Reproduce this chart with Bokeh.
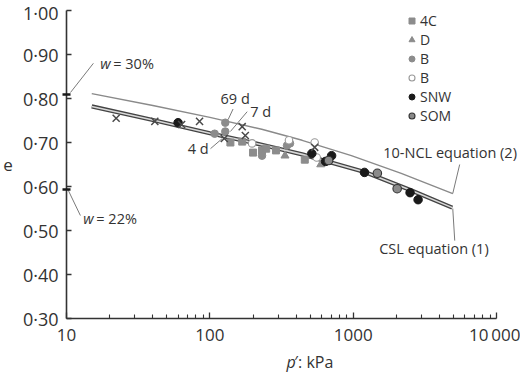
from bokeh.plotting import figure
from bokeh.layouts import column
from bokeh.models import Range1d, FixedTicker, Legend, LegendItem, Label
from bokeh.core.properties import value
from bokeh.embed import file_html
from bokeh.resources import INLINE

FONT = "Open Sans"
TXT = "#333333"

# Critical state line, equation (1)
csl_p = [15, 40, 100, 230, 440, 1200, 2500, 4900]
csl_e = [0.782, 0.751, 0.721, 0.695, 0.673, 0.633, 0.592, 0.552]
# 10-NCL, equation (2)
ncl_p = [15, 40, 100, 230, 440, 970, 2160, 4940]
ncl_e = [0.811, 0.784, 0.757, 0.730, 0.705, 0.670, 0.630, 0.584]

# data series
c4_p = [139, 168, 200, 231, 247, 289, 459]
c4_e = [0.700, 0.702, 0.677, 0.682, 0.686, 0.682, 0.661]
d_p = [334, 593]
d_e = [0.670, 0.650]
b_p = [128, 108, 128, 231, 345, 362]
b_e = [0.745, 0.720, 0.725, 0.670, 0.693, 0.698]
bo_p = [197, 356, 538, 556]
bo_e = [0.698, 0.705, 0.700, 0.666]
snw_p = [60, 514, 641, 706, 1197, 2489, 2831]
snw_e = [0.745, 0.675, 0.657, 0.670, 0.632, 0.586, 0.570]
som_p = [673, 1472, 2023]
som_e = [0.659, 0.630, 0.595]
cross_p = [22.2, 41.3, 63.5, 84.7, 168, 126, 176.6, 538]
cross_e = [0.755, 0.748, 0.741, 0.748, 0.736, 0.709, 0.716, 0.689]

# water content marks on the e axis
w_e = [0.81, 0.594]
w_labels = ["= 30%", "= 22%"]

x_ticks = [10, 100, 1000, 10000]
x_tick_labels = ["10", "100", "1000", "10\u2009000"]
y_ticks = [0.3, 0.4, 0.5, 0.6, 0.7, 0.8, 0.9, 1.0]
y_tick_labels = ["0\u00b730", "0\u00b740", "0\u00b750", "0\u00b760",
                 "0\u00b770", "0\u00b780", "0\u00b790", "1\u00b700"]

p = figure(width=520, height=350, x_axis_type="log",
           x_range=Range1d(10, 14660), y_range=Range1d(0.3, 1.0),
           output_backend="svg", toolbar_location=None,
           min_border_left=63, min_border_right=0,
           min_border_top=10, min_border_bottom=32)
p.outline_line_color = None
p.grid.visible = False

minor = [k * 10 ** d for d in (1, 2, 3) for k in range(2, 10)]
p.xaxis.ticker = FixedTicker(ticks=x_ticks, minor_ticks=minor)
p.xaxis.major_label_overrides = dict(zip(x_ticks, x_tick_labels))
p.xaxis.bounds = (10, 10000)
p.yaxis.ticker = FixedTicker(ticks=y_ticks, minor_ticks=w_e)
p.yaxis.major_label_overrides = dict(zip(y_ticks, y_tick_labels))

for ax in (p.xaxis, p.yaxis):
    ax.axis_line_color = "#333333"
    ax.axis_line_width = 1.6
    ax.major_tick_line_color = "#333333"
    ax.major_tick_line_width = 1.3
    ax.major_tick_in = 6
    ax.major_tick_out = 0
    ax.minor_tick_line_color = "#333333"
    ax.minor_tick_line_width = 1.1
    ax.minor_tick_in = 4
    ax.minor_tick_out = 0
    ax.major_label_text_font = FONT
    ax.major_label_text_font_size = "17px"
    ax.major_label_text_color = TXT
    ax.major_label_standoff = 4
p.yaxis.major_label_text_font_size = "18px"
# the two water-content marks are drawn as bold ticks across the e axis
p.yaxis.minor_tick_line_color = "#1a1a1a"
p.yaxis.minor_tick_line_width = 2.6
p.yaxis.minor_tick_in = 4
p.yaxis.minor_tick_out = 4
p.yaxis.major_tick_in = 5
p.yaxis.axis_label = "e"
p.yaxis.axis_label_orientation = "horizontal"
p.yaxis.axis_label_text_font = FONT
p.yaxis.axis_label_text_font_style = "normal"
p.yaxis.axis_label_text_font_size = "17px"
p.yaxis.axis_label_text_color = TXT
p.yaxis.axis_label_standoff = 7

# lines
p.line(ncl_p, ncl_e, line_color="#8a8a8a", line_width=1.4)
p.line(csl_p, csl_e, line_color="#444444", line_width=4.2)
p.line(csl_p, csl_e, line_color="#d8d8d8", line_width=1.6)

GRAY = "#8c8c8c"
r_c4 = p.scatter(c4_p, c4_e, marker="square", size=7, fill_color=GRAY, line_color=GRAY)
r_d = p.scatter(d_p, d_e, marker="triangle", size=8, fill_color=GRAY, line_color=GRAY)
r_b = p.scatter(b_p, b_e, marker="circle", size=7.5, fill_color=GRAY, line_color=GRAY)
r_bo = p.scatter(bo_p, bo_e, marker="circle", size=7.5, fill_color="white", line_color="#999999", line_width=1.1)
r_snw = p.scatter(snw_p, snw_e, marker="circle", size=8.5, fill_color="#1a1a1a", line_color="#1a1a1a")
r_som = p.scatter(som_p, som_e, marker="circle", size=8.5, fill_color="#8a8a8a", line_color="#333333", line_width=1.1)
p.scatter(cross_p, cross_e, marker="x", size=10, line_color="#4a4a4a", line_width=1.5)

legend = Legend(items=[LegendItem(label="4C", renderers=[r_c4]),
                       LegendItem(label="D", renderers=[r_d]),
                       LegendItem(label="B", renderers=[r_b]),
                       LegendItem(label="B", renderers=[r_bo]),
                       LegendItem(label="SNW", renderers=[r_snw]),
                       LegendItem(label="SOM", renderers=[r_som])],
                location=(338, 193), orientation="vertical",
                glyph_width=15, glyph_height=15, label_height=15,
                label_standoff=1, spacing=0, padding=0, margin=0,
                border_line_color=None, background_fill_alpha=0,
                label_text_font=FONT, label_text_font_size="14px",
                label_text_color=TXT)
p.add_layout(legend)

# leader lines
lead_x0 = [15.4, 10.16, 145, 182, 101, 5520, 4940]
lead_y0 = [0.880, 0.595, 0.776, 0.770, 0.686, 0.650, 0.550]
lead_x1 = [10.66, 12.5, 134, 139, 122, 4940, 5100]
lead_y1 = [0.8136, 0.534, 0.752, 0.725, 0.709, 0.584, 0.477]
p.segment(lead_x0, lead_y0, lead_x1, lead_y1, line_color="#7a7a7a", line_width=1)

def label(x, y, text, size="14.5px", style="normal", xoff=0, align="left"):
    p.add_layout(Label(x=x, y=y, text=text, x_offset=xoff, text_font=FONT,
                       text_font_size=size, text_font_style=style,
                       text_color=TXT, text_baseline="middle", text_align=align))

label(17.2, 0.8795, "w", style="italic")
label(17.2, 0.8795, w_labels[0], xoff=13)
label(13.1, 0.527, "w", style="italic")
label(13.1, 0.527, w_labels[1], xoff=13)
label(150, 0.800, "69 d", align="center")
label(191, 0.770, "7 d")
label(70, 0.6875, "4 d")
label(1618, 0.677, "10-NCL equation (2)")
label(1517, 0.459, "CSL equation (1)")

# x-axis title strip (italic p followed by upright text)
cap = figure(width=520, height=22, x_range=Range1d(0, 520), y_range=Range1d(0, 22),
             output_backend="svg", toolbar_location=None, min_border=0,
             x_axis_location=None, y_axis_location=None)
cap.outline_line_color = None
cap.grid.visible = False
cap.text(x=[252], y=[11], text=["p"], text_font=value(FONT), text_font_size="16px",
         text_font_style="italic", text_color=TXT, text_baseline="middle")
cap.text(x=[261], y=[11], text=["\u2032: kPa"], text_font=value(FONT), text_font_size="16px",
         text_color=TXT, text_baseline="middle")

layout = column(p, cap, spacing=0)
open("out.html", "w").write(file_html(layout, INLINE))
